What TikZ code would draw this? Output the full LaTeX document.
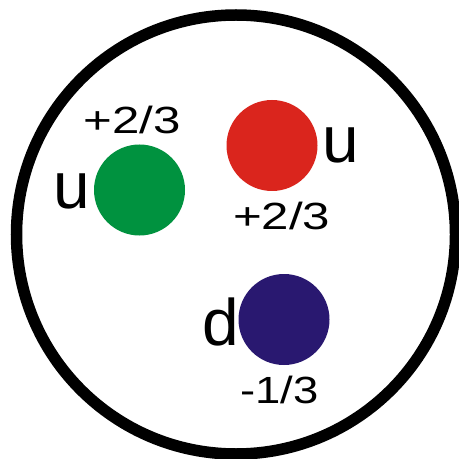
\documentclass[tikz,border=0pt]{standalone}
\usepackage{fontspec}
\usepackage{graphicx}
\setmainfont{Liberation Sans}
\definecolor{qgreen}{RGB}{0,146,63}
\definecolor{qred}{RGB}{218,37,29}
\definecolor{qblue}{RGB}{41,24,112}
\tikzset{
  quark/.style={circle, minimum size=91bp, inner sep=0pt, draw=none},
  flav/.style={anchor=base, inner sep=0pt, font=\fontsize{66}{70}\selectfont},
  chg/.style={anchor=base, inner sep=0pt, font=\fontsize{38}{42}\selectfont}
}
\newcommand{\chgtext}[2][1.3]{\scalebox{#1}[1]{#2}}
\begin{document}
\begin{tikzpicture}[x=1bp,y=-1bp]
\useasboundingbox (0,0) rectangle (459,459);
\draw[line width=11.5bp] (236,234.5) circle (219.5);
\node[quark, fill=qgreen] (g) at (139.5,190) {};
\node[quark, fill=qred] (r) at (272,145.5) {};
\node[quark, fill=qblue] (b) at (284,319.5) {};
\node[flav] (gu) at (71.5,209) {u};
\node[flav] (ru) at (340.5,163) {u};
\node[flav] (bd) at (221,345) {d};
\node[chg] (gc) at (132.2,134) {\chgtext{+2/3}};
\node[chg] (rc) at (281.7,229.7) {\chgtext{+2/3}};
\node[chg] (bc) at (279.7,403) {\chgtext[1.2]{-1/3}};
\end{tikzpicture}
\end{document}
